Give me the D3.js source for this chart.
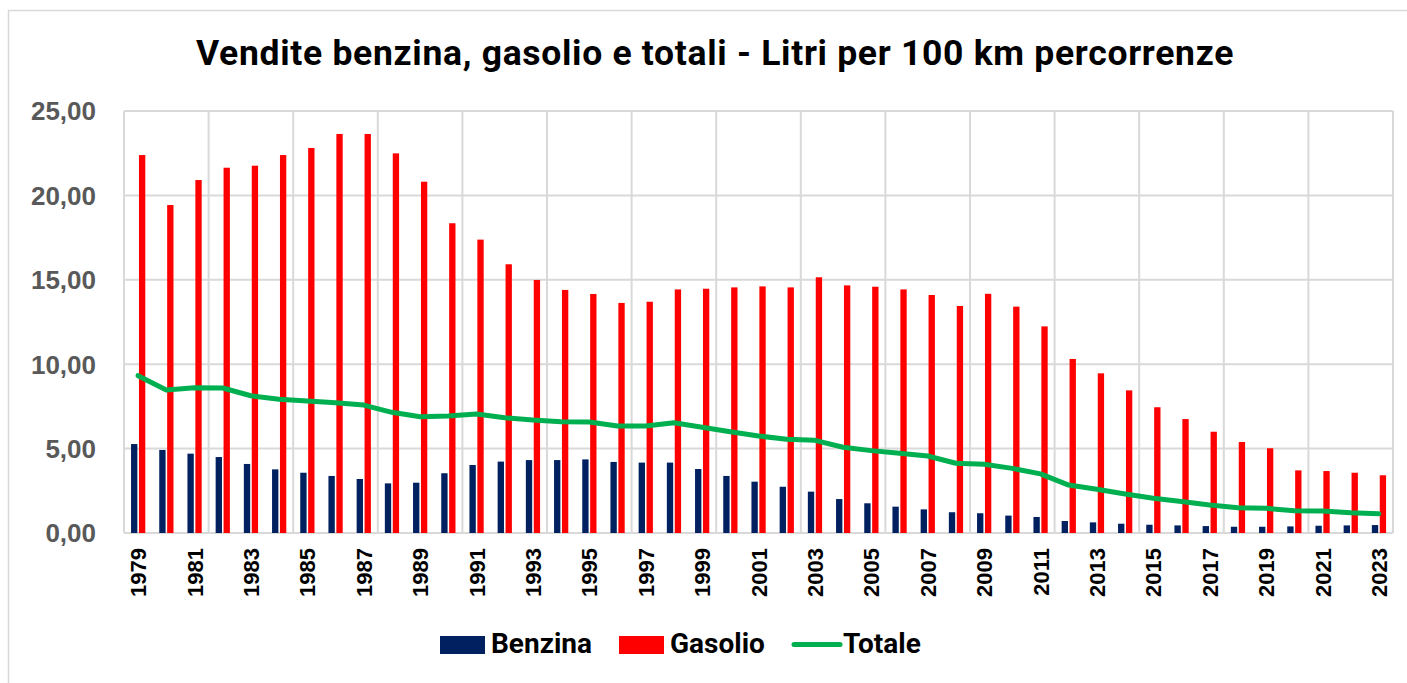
<!DOCTYPE html>
<html lang="it">
<head>
    <meta charset="UTF-8">
    <title>Vendite benzina, gasolio e totali</title>
    <script src="https://d3js.org/d3.v7.min.js"></script>
    <style>
        body{
            margin:0;
            background:#fff;
        }
        .grid line{
            stroke:#d9d9d9;
            stroke-width:2;
        }
        .ylab{
            font-family:"Liberation Sans", Arial, sans-serif;
            font-weight:bold;
            font-size:26px;
            fill:#595959;
        }
        .xlab{
            font-family:"Liberation Sans", Arial, sans-serif;
            font-weight:bold;
            font-size:22px;
            fill:#000;
        }
    </style>
</head>
<body>
<script>
    const years = d3.range(1979, 2024).map(String)

    const benzina = [5.27, 4.92, 4.70, 4.50, 4.09, 3.77, 3.57, 3.38, 3.20, 2.94,
        2.98, 3.54, 4.03, 4.23, 4.32, 4.32, 4.36, 4.21, 4.17, 4.17,
        3.79, 3.38, 3.04, 2.74, 2.45, 2.01, 1.76, 1.56, 1.40, 1.23,
        1.17, 1.03, 0.95, 0.71, 0.63, 0.55, 0.49, 0.45, 0.41, 0.37,
        0.37, 0.39, 0.43, 0.45, 0.47]

    const gasolio = [22.39, 19.43, 20.91, 21.64, 21.76, 22.39, 22.81, 23.64, 23.64, 22.49,
        20.81, 18.35, 17.38, 15.92, 14.99, 14.40, 14.16, 13.63, 13.70, 14.43,
        14.47, 14.55, 14.61, 14.55, 15.15, 14.67, 14.59, 14.43, 14.10, 13.45,
        14.17, 13.41, 12.24, 10.31, 9.46, 8.45, 7.45, 6.75, 6.00, 5.39,
        5.02, 3.71, 3.67, 3.57, 3.42]

    const totale = [9.32, 8.47, 8.61, 8.59, 8.13, 7.92, 7.82, 7.72, 7.58, 7.15,
        6.89, 6.93, 7.05, 6.83, 6.69, 6.59, 6.58, 6.34, 6.34, 6.53,
        6.26, 6.00, 5.75, 5.55, 5.49, 5.08, 4.88, 4.72, 4.56, 4.13,
        4.07, 3.83, 3.50, 2.84, 2.59, 2.31, 2.06, 1.86, 1.66, 1.50,
        1.46, 1.32, 1.30, 1.20, 1.14]

    const yTicks = [0, 5, 10, 15, 20, 25]
    const series = ["Benzina", "Gasolio"]

    const width = 1407
    const height = 683
    const plotL = 124, plotR = 1393, plotT = 111, plotB = 533

    const svg = d3.select("body").append("svg")
        .attr("width", width)
        .attr("height", height)

    // cornice esterna del grafico
    svg.append("rect")
        .attr("x", 8.5).attr("y", 10.5)
        .attr("width", width + 10).attr("height", height + 10)
        .attr("fill", "none")
        .attr("stroke", "#d9d9d9")
        .attr("stroke-width", 1.5)

    svg.append("text")
        .attr("x", 715)
        .attr("y", 65)
        .attr("text-anchor", "middle")
        .style("font-family", "Roboto, 'Open Sans', sans-serif")
        .style("font-weight", "bold")
        .style("font-size", "35.5px")
        .style("letter-spacing", "0.7px")
        .text("Vendite benzina, gasolio e totali - Litri per 100 km percorrenze")

    const x0 = d3.scaleBand().domain(years).range([plotL, plotR]).padding(0)
    const bw = x0.bandwidth()
    const x1 = d3.scaleBand().domain(series).range([bw * 0.25, bw * 0.755]).paddingInner(0.2)
    const y = d3.scaleLinear().domain([0, 25]).range([plotB, plotT])

    const color = d3.scaleOrdinal().domain(series).range(["#002060", "#ff0000"])

    // griglia
    const grid = svg.append("g").attr("class", "grid")
    grid.selectAll(".hl")
        .data(yTicks)
        .enter()
        .append("line")
        .attr("x1", plotL).attr("x2", plotR)
        .attr("y1", d => y(d)).attr("y2", d => y(d))

    const vlines = years.filter((d, i) => i % 3 == 0).map(d => x0(d))
    vlines.push(plotR)
    grid.selectAll(".vl")
        .data(vlines)
        .enter()
        .append("line")
        .attr("x1", d => d).attr("x2", d => d)
        .attr("y1", plotT).attr("y2", plotB)

    // etichette asse y
    svg.append("g").selectAll("text")
        .data(yTicks)
        .enter()
        .append("text")
        .attr("class", "ylab")
        .attr("x", 96)
        .attr("y", d => y(d))
        .attr("dy", "0.36em")
        .attr("text-anchor", "end")
        .text(d => d3.format(".2f")(d).replace(".", ","))

    // etichette asse x (un anno si e uno no)
    svg.append("g").selectAll("text")
        .data(years.filter((d, i) => i % 2 == 0))
        .enter()
        .append("text")
        .attr("class", "xlab")
        .attr("transform", d => `translate(${x0(d) + bw / 2 + 8},548) rotate(-90)`)
        .attr("text-anchor", "end")
        .text(d => d)

    // barre
    const rows = years.map((d, i) => ({year: d, Benzina: benzina[i], Gasolio: gasolio[i]}))

    svg.append("g").selectAll("g")
        .data(rows)
        .enter()
        .append("g")
        .attr("transform", d => `translate(${x0(d.year)},0)`)
        .selectAll("rect")
        .data(d => series.map(k => ({key: k, value: d[k]})))
        .enter()
        .append("rect")
        .attr("x", d => x1(d.key))
        .attr("width", x1.bandwidth())
        .attr("y", d => y(d.value))
        .attr("height", d => y(0) - y(d.value))
        .attr("fill", d => color(d.key))

    // linea totale
    const line = d3.line()
        .x((d, i) => x0(years[i]) + bw / 2)
        .y(d => y(d))

    svg.append("path")
        .datum(totale)
        .attr("d", line)
        .attr("fill", "none")
        .attr("stroke", "#00b050")
        .attr("stroke-width", 5)
        .attr("stroke-linejoin", "round")
        .attr("stroke-linecap", "round")

    // legenda
    const legend = svg.append("g")
        .style("font-family", "Roboto, 'Open Sans', sans-serif")
        .style("font-weight", "bold")
        .style("font-size", "28px")

    const legendItems = [
        {name: "Benzina", x: 440, type: "rect", fill: "#002060"},
        {name: "Gasolio", x: 619, type: "rect", fill: "#ff0000"},
        {name: "Totale", x: 792, type: "line", fill: "#00b050"}
    ]

    legendItems.forEach(d => {
        if (d.type == "rect") {
            legend.append("rect")
                .attr("x", d.x).attr("y", 636)
                .attr("width", 45).attr("height", 18)
                .attr("fill", d.fill)
        } else {
            legend.append("line")
                .attr("x1", d.x + 2).attr("x2", d.x + 48)
                .attr("y1", 644.5).attr("y2", 644.5)
                .attr("stroke", d.fill)
                .attr("stroke-width", 5)
                .attr("stroke-linecap", "round")
        }
        legend.append("text")
            .attr("x", d.x + 51)
            .attr("y", 653)
            .text(d.name)
    })
</script>
</body>
</html>
